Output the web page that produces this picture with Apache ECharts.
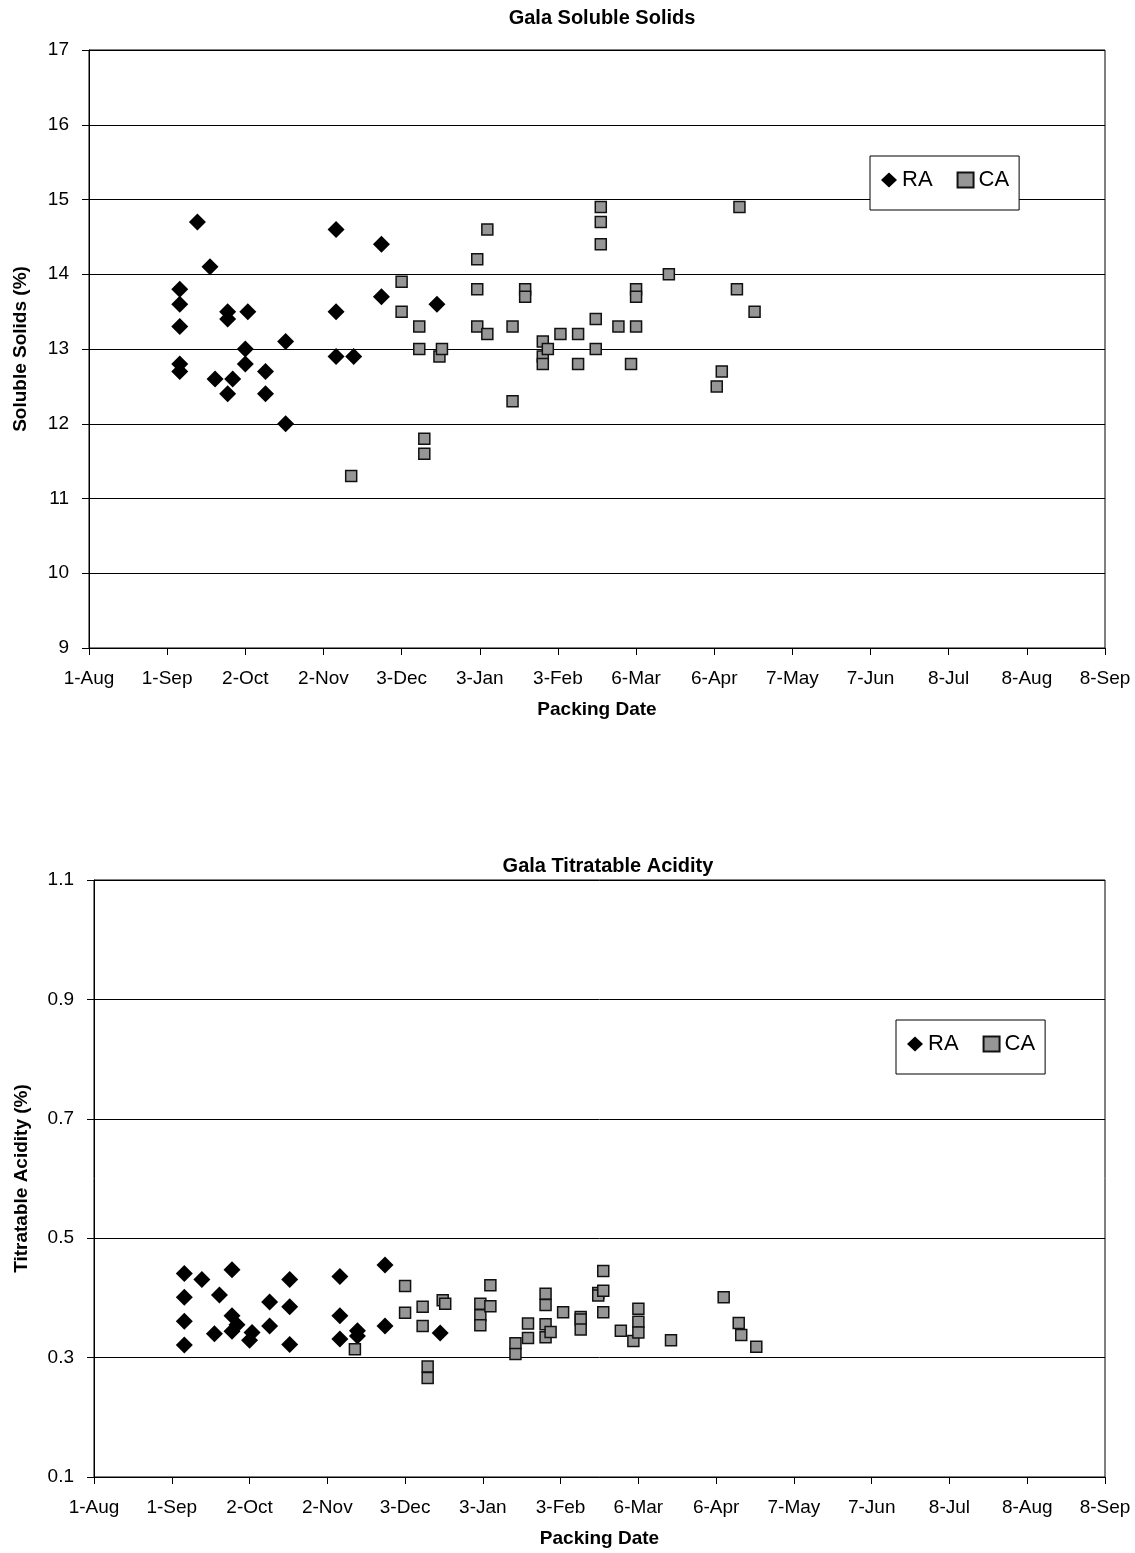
<!DOCTYPE html>
<html>
<head>
<meta charset="utf-8">
<script src="https://cdn.jsdelivr.net/npm/echarts@6/dist/echarts.min.js"></script>
<style>
  html, body { margin: 0; padding: 0; background: #fff; }
  #chart { width: 1135px; height: 1553px; }
</style>
</head>
<body>
<div id="chart"></div>
<script>
// x values are days counted from 1-Aug (axis runs 1-Aug .. 8-Sep, one tick every 31 days)
var tickLabels = ['1-Aug', '1-Sep', '2-Oct', '2-Nov', '3-Dec', '3-Jan', '3-Feb', '6-Mar', '6-Apr', '7-May', '7-Jun', '8-Jul', '8-Aug', '8-Sep'];
var seriesNames = ['RA', 'CA'];

// Gala soluble solids (%)
var raSolidsDays = [36, 36, 36, 36, 36, 43, 48, 50, 55, 55, 55, 57, 62, 62, 63, 70, 70, 78, 78, 98, 98, 98, 105, 116, 116, 138];
var raSolids = [13.8, 13.6, 13.3, 12.8, 12.7, 14.7, 14.1, 12.6, 13.5, 13.4, 12.4, 12.6, 13.0, 12.8, 13.5, 12.7, 12.4, 13.1, 12.0, 14.6, 13.5, 12.9, 12.9, 14.4, 13.7, 13.6];
var caSolidsDays = [104, 124, 124, 131, 131, 133, 133, 139, 140, 154, 154, 154, 158, 158, 168, 168, 173, 173, 180, 180, 180, 182, 187, 194, 194, 201, 201, 203, 203, 203, 210, 215, 217, 217, 217, 230, 249, 251, 257, 258, 264];
var caSolids = [11.3, 13.9, 13.5, 13.3, 13.0, 11.8, 11.6, 12.9, 13.0, 14.2, 13.8, 13.3, 14.6, 13.2, 13.3, 12.3, 13.8, 13.7, 13.1, 12.9, 12.8, 13.0, 13.2, 13.2, 12.8, 13.4, 13.0, 14.9, 14.7, 14.4, 13.3, 12.8, 13.8, 13.7, 13.3, 14.0, 12.5, 12.7, 13.8, 14.9, 13.5];

// Gala titratable acidity (%)
var raAcidDays = [36, 36, 36, 36, 43, 48, 50, 55, 55, 55, 57, 62, 63, 70, 70, 78, 78, 78, 98, 98, 98, 105, 105, 116, 116, 138];
var raAcid = [0.441, 0.401, 0.361, 0.321, 0.431, 0.340, 0.405, 0.447, 0.370, 0.344, 0.355, 0.329, 0.342, 0.393, 0.353, 0.431, 0.385, 0.322, 0.436, 0.370, 0.331, 0.345, 0.336, 0.455, 0.353, 0.341];
var caAcidDays = [104, 124, 124, 131, 131, 133, 133, 139, 140, 154, 154, 154, 158, 158, 168, 168, 173, 173, 180, 180, 180, 180, 182, 187, 194, 194, 194, 201, 201, 203, 203, 203, 210, 215, 217, 217, 217, 230, 251, 257, 258, 264];
var caAcid = [0.314, 0.420, 0.375, 0.385, 0.353, 0.285, 0.266, 0.396, 0.390, 0.390, 0.371, 0.354, 0.421, 0.386, 0.324, 0.306, 0.357, 0.333, 0.407, 0.388, 0.356, 0.334, 0.343, 0.376, 0.368, 0.364, 0.347, 0.408, 0.404, 0.445, 0.412, 0.376, 0.345, 0.328, 0.382, 0.360, 0.342, 0.329, 0.401, 0.358, 0.338, 0.318];

function zip(xs, ys) {
    return xs.map(function (x, i) { return [x, ys[i]]; });
}

var FONT = '"Liberation Sans", Arial, sans-serif';

function xAxisFor(gridIndex) {
    return {
        type: 'value',
        gridIndex: gridIndex,
        min: 0,
        max: 403,
        interval: 31,
        name: 'Packing Date',
        nameLocation: 'middle',
        nameGap: 52,
        nameTextStyle: { fontFamily: FONT, fontSize: 19, fontWeight: 'bold', color: '#000' },
        axisLine: { show: true, lineStyle: { color: '#000', width: 1 } },
        axisTick: { show: true, length: 7, lineStyle: { color: '#000' } },
        splitLine: { show: false },
        axisLabel: {
            fontFamily: FONT, fontSize: 19, color: '#000', margin: 21,
            formatter: function (v) { return tickLabels[Math.round(v / 31)]; }
        }
    };
}

function yAxisFor(gridIndex, name, min, max, interval, digits) {
    return {
        type: 'value',
        gridIndex: gridIndex,
        min: min,
        max: max,
        interval: interval,
        name: name,
        nameLocation: 'middle',
        nameRotate: 90,
        nameGap: digits ? 63 : 59,
        nameTextStyle: { fontFamily: FONT, fontSize: 19, fontWeight: 'bold', color: '#000' },
        axisLine: { show: true, lineStyle: { color: '#000', width: 1 } },
        axisTick: { show: true, length: 7, lineStyle: { color: '#000' } },
        splitLine: { show: true, lineStyle: { color: '#000', width: 1 } },
        axisLabel: {
            fontFamily: FONT, fontSize: 19, color: '#000', margin: 20,
            formatter: function (v) { return v.toFixed(digits); }
        }
    };
}

function legendAt(left, top) {
    return {
        left: left,
        top: top,
        orient: 'horizontal',
        data: seriesNames,
        backgroundColor: '#fff',
        borderColor: '#000',
        borderWidth: 1,
        borderRadius: 0,
        padding: [13, 10, 19, 11],
        itemWidth: 16,
        itemHeight: 15,
        itemGap: 24,
        selectedMode: false,
        textStyle: { fontFamily: FONT, fontSize: 22, color: '#000' }
    };
}

var raStyle = { color: '#000', opacity: 1 };
var caStyle = { color: '#969696', borderColor: '#111', borderWidth: 1.5, opacity: 1 };

var myChart = echarts.init(document.getElementById('chart'), null, { renderer: 'canvas' });
myChart.setOption({
    backgroundColor: '#fff',
    animation: false,
    title: [
        { text: 'Gala Soluble Solids', left: 597, top: 3, textAlign: 'center',
          textStyle: { fontFamily: FONT, fontSize: 20, fontWeight: 'bold', color: '#000' } },
        { text: 'Gala Titratable Acidity', left: 603, top: 851, textAlign: 'center',
          textStyle: { fontFamily: FONT, fontSize: 20, fontWeight: 'bold', color: '#000' } }
    ],
    legend: [legendAt(870, 156), legendAt(896, 1020)],
    grid: [
        { left: 89, top: 50, right: 30, height: 598, show: true, borderColor: '#000', borderWidth: 1, containLabel: false },
        { left: 94, top: 880, right: 30, height: 597, show: true, borderColor: '#000', borderWidth: 1, containLabel: false }
    ],
    xAxis: [xAxisFor(0), xAxisFor(1)],
    yAxis: [
        yAxisFor(0, 'Soluble Solids (%)', 9, 17, 1, 0),
        yAxisFor(1, 'Titratable Acidity (%)', 0.1, 1.1, 0.2, 1)
    ],
    series: [
        { name: 'RA', type: 'scatter', xAxisIndex: 0, yAxisIndex: 0, symbol: 'diamond', symbolSize: 17,
          itemStyle: raStyle, data: zip(raSolidsDays, raSolids) },
        { name: 'CA', type: 'scatter', xAxisIndex: 0, yAxisIndex: 0, symbol: 'rect', symbolSize: 11,
          itemStyle: caStyle, data: zip(caSolidsDays, caSolids) },
        { name: 'RA', type: 'scatter', xAxisIndex: 1, yAxisIndex: 1, symbol: 'diamond', symbolSize: 17,
          itemStyle: raStyle, data: zip(raAcidDays, raAcid) },
        { name: 'CA', type: 'scatter', xAxisIndex: 1, yAxisIndex: 1, symbol: 'rect', symbolSize: 11,
          itemStyle: caStyle, data: zip(caAcidDays, caAcid) }
    ]
});
</script>
</body>
</html>
